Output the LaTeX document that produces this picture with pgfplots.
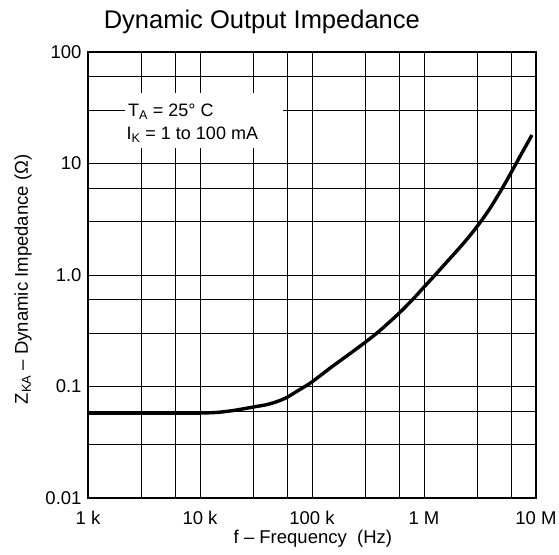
\documentclass[border=0pt]{standalone}
\usepackage{fontspec}
\setmainfont{Liberation Sans}
\usepackage{pgfplots}
\pgfplotsset{compat=1.18}
\begin{document}
\begin{tikzpicture}
\begin{axis}[
  name=ax,
  scale only axis,
  width=448pt, height=446pt,
  xmode=log, ymode=log,
  xmin=1e3, xmax=1e7, ymin=0.01, ymax=100,
  xtick={1e3,1e4,1e5,1e6,1e7},
  xticklabels={1 k,10 k,100 k,1 M,10 M},
  ytick={0.01,0.1,1,10,100},
  yticklabels={0.01,0.1,1.0,10,100},
  minor xtick={3e3,6e3,3e4,6e4,3e5,6e5,3e6,6e6},
  minor ytick={0.03,0.06,0.3,0.6,3,6,30,60},
  grid=both,
  major grid style={black, line width=1pt},
  minor grid style={black, line width=1pt},
  major tick length=0pt, minor tick length=0pt,
  axis line style={black, line width=2pt},
  tick label style={font=\fontsize{18.5}{21}\selectfont},
  xticklabel style={anchor=base, yshift=-26pt},
  yticklabel style={xshift=-3pt},
  clip=false,
]
\addplot[black, line width=3.4pt, smooth, tension=0.5] coordinates {
  (1000,0.058) (3000,0.058) (10000,0.058) (14000,0.0585) (20000,0.061)
  (30000,0.0655) (40000,0.069) (50000,0.074) (60000,0.080) (70000,0.088)
  (85000,0.099) (100000,0.11) (150000,0.15) (200000,0.185) (300000,0.25)
  (400000,0.315) (600000,0.455) (800000,0.61) (1000000,0.78) (1200000,0.95)
  (1500000,1.22) (2000000,1.68) (2500000,2.18) (3000000,2.75) (3500000,3.4)
  (4000000,4.15) (5000000,6.0) (6000000,8.3) (7000000,11.0) (8000000,14.0)
  (9200000,18)
};
\addplot[black, line width=4.6pt] coordinates {
  (1000,0.058) (3000,0.058) (10000,0.058)
};
\fill[white] (axis cs:2140,13.7) rectangle (axis cs:55000,43);
\node[anchor=base west, inner sep=0pt, font=\fontsize{18}{21}\selectfont]
  at (axis cs:2270,26.3) {T\textsubscript{A} = 25° C};
\node[anchor=base west, inner sep=0pt, font=\fontsize{18}{21}\selectfont]
  at (axis cs:2200,16.3) {I\textsubscript{K} = 1 to 100 mA};
\node[anchor=base, inner sep=0pt, font=\fontsize{25.5}{30}\selectfont]
  at (rel axis cs:0.388,1.0516) {Dynamic Output Impedance};
\node[anchor=base, inner sep=0pt, font=\fontsize{18.5}{21}\selectfont]
  at (rel axis cs:0.502,-0.103) {f – Frequency\ \ (Hz)};
\node[anchor=base, rotate=90, inner sep=0pt, font=\fontsize{18.5}{21}\selectfont]
  at (rel axis cs:-0.134,0.49) {Z\textsubscript{KA} – Dynamic Impedance (Ω)};
\end{axis}
\pgfresetboundingbox
\path[use as bounding box] ([xshift=-88pt,yshift=-56pt]ax.south west) rectangle ++(559pt,554pt);
\end{tikzpicture}
\end{document}
